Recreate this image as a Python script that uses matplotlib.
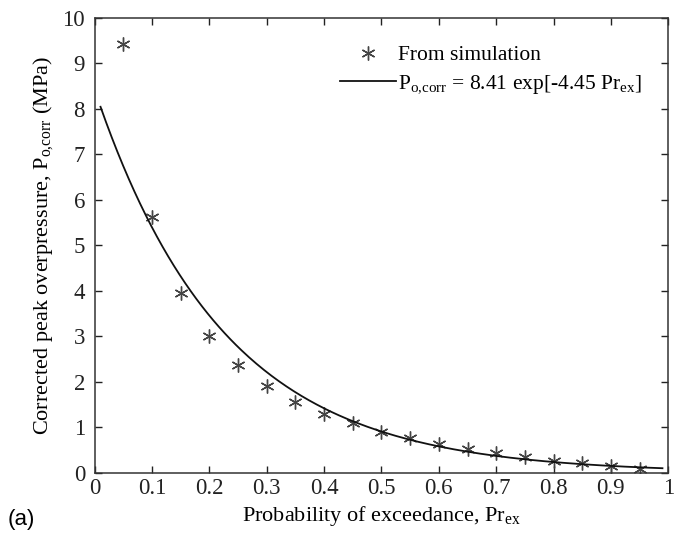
import numpy as np
import matplotlib
matplotlib.use("Agg")
import matplotlib.pyplot as plt

plt.rcParams['font.family'] = ['Liberation Serif', 'DejaVu Serif']
plt.rcParams['mathtext.fontset'] = 'custom'
plt.rcParams['mathtext.rm'] = 'Liberation Serif'
plt.rcParams['mathtext.it'] = 'Liberation Serif:italic'

# Simulation points
pr_ex = [0.05, 0.10, 0.15, 0.20, 0.25, 0.30, 0.35, 0.40, 0.45, 0.50,
         0.55, 0.60, 0.65, 0.70, 0.75, 0.80, 0.85, 0.90, 0.95]
p_sim = [9.42, 5.63, 3.96, 3.01, 2.37, 1.90, 1.56, 1.30, 1.09, 0.90,
         0.76, 0.64, 0.53, 0.43, 0.34, 0.27, 0.21, 0.15, 0.08]

# Fit coefficients (from legend)
fit_a = 8.41
fit_b = -4.45
fit_range = (0.01, 0.99)

x_ticks = [0, 0.1, 0.2, 0.3, 0.4, 0.5, 0.6, 0.7, 0.8, 0.9, 1]
x_ticklabels = ['0', '0.1', '0.2', '0.3', '0.4', '0.5', '0.6', '0.7', '0.8', '0.9', '1']
y_ticks = list(range(0, 11))

fig = plt.figure(figsize=(6.77, 5.38), dpi=100)
ax = fig.add_axes([0.140, 0.121, 0.847, 0.846])

xf = np.linspace(fit_range[0], fit_range[1], 300)
yf = fit_a * np.exp(fit_b * xf)

ax.plot(pr_ex, p_sim, linestyle='none', marker=(6, 2, 0), markersize=10,
        markeredgewidth=1.0, color='#444444', label='From simulation')
ax.plot(xf, yf, color='#111111', linewidth=1.3,
        label=r'P$_{\mathrm{o{,}corr}}$ = 8.41 exp[-4.45 Pr$_{\mathrm{ex}}$]')

ax.set_xlim(0, 1)
ax.set_ylim(0, 10)
ax.set_xticks(x_ticks)
ax.set_xticklabels(x_ticklabels)
ax.set_yticks(y_ticks)
ax.tick_params(direction='in', top=True, right=True, labelsize=16.5, length=5,
               width=1, colors='#222222')
ax.tick_params(axis='x', pad=4)
ax.tick_params(axis='y', pad=7)
for s in ax.spines.values():
    s.set_linewidth(1.1)
    s.set_color('#333333')

ax.set_xlabel(r'Probability of exceedance, Pr$_{\mathrm{ex}}$', fontsize=16, labelpad=3)
ax.set_ylabel(r'Corrected peak overpressure, P$_{\mathrm{o{,}corr}}$ (MPa)', fontsize=16, labelpad=5)

leg = ax.legend(loc='upper left', bbox_to_anchor=(0.428, 0.94), frameon=False,
                fontsize=15.5, handlelength=2.6, handletextpad=0.1,
                labelspacing=0.4, borderaxespad=0, borderpad=0)

fig.text(0.012, 0.025, '(a)', fontsize=16, family=['Liberation Sans', 'DejaVu Sans'])

fig.savefig('out.png', dpi=100)
